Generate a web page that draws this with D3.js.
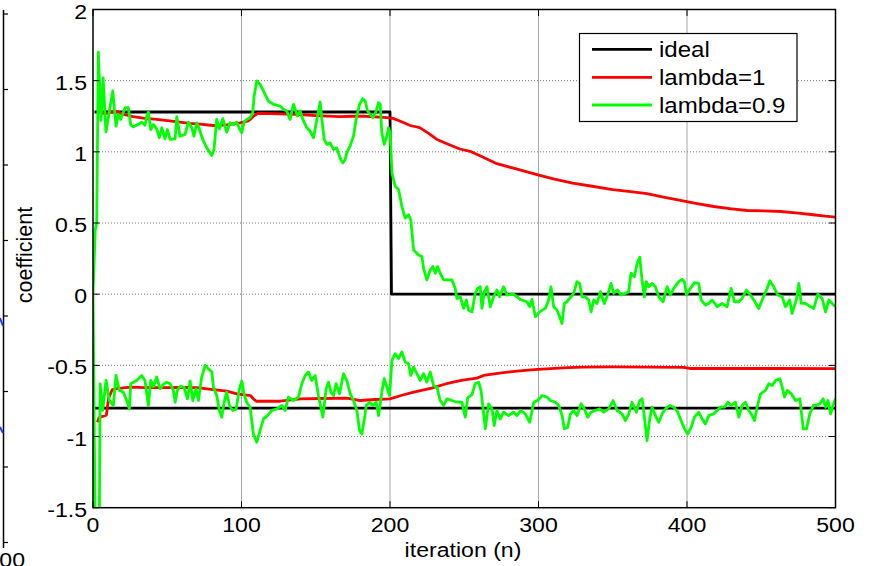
<!DOCTYPE html>
<html>
<head>
<meta charset="utf-8">
<script src="https://cdn.jsdelivr.net/npm/d3@7"></script>
<style>
  html, body { margin: 0; padding: 0; background: #fff; }
  svg { display: block; }
  text { font-family: "Liberation Sans", Arial, sans-serif; fill: #000; }
</style>
</head>
<body>
<svg id="chart" width="876" height="566"></svg>
<script>
// ---- data -------------------------------------------------------------
const xTicks = [0, 100, 200, 300, 400, 500];
const yTicks = [-1.5, -1, -0.5, 0, 0.5, 1, 1.5, 2];
const seriesNames = ["ideal", "lambda=1", "lambda=0.9"];
const seriesColors = ["#000000", "#ff0000", "#00ff00"];

// ideal coefficients [n, value]
const idealUpper = [[1, 1.28], [200, 1.28], [201, 0], [500, 0]];
const idealLower = [[1, -0.8], [500, -0.8]];

// RLS estimate, lambda = 1
const redUpper = [[3,1.3],[6,1.27],[9,1.27],[12,1.28],[16,1.285],[20,1.265],[27,1.247],[35,1.235],[43,1.228],[50,1.22],[58.6,1.209],[65,1.2],[72,1.195],[81,1.185],[90,1.19],[99,1.204],[104,1.215],[106,1.228],[108,1.25],[111,1.27],[120,1.268],[137,1.263],[150,1.255],[166,1.247],[175,1.25],[182,1.251],[190,1.245],[198,1.24],[202,1.235],[207,1.215],[213.6,1.185],[220,1.17],[226,1.13],[231.6,1.087],[240,1.05],[247,1.02],[254,1.004],[262,0.965],[272,0.917],[285,0.88],[299,0.84],[310,0.81],[323,0.78],[335,0.76],[350,0.734],[362,0.72],[373,0.706],[385,0.68],[395.6,0.659],[405,0.64],[418,0.616],[430,0.6],[440.5,0.588],[452,0.585],[463,0.581],[475,0.57],[485,0.558],[493,0.548],[500,0.541]];
const redLower = [[3,-0.9],[4,-0.87],[6,-0.86],[9,-0.85],[10.5,-0.73],[13,-0.67],[16,-0.664],[25,-0.653],[35,-0.656],[47,-0.657],[60,-0.655],[70,-0.657],[81,-0.671],[90,-0.681],[97,-0.7],[106,-0.712],[108,-0.735],[110,-0.752],[126,-0.752],[139.5,-0.735],[155,-0.733],[171,-0.73],[180,-0.747],[190,-0.74],[200,-0.735],[208,-0.71],[216,-0.688],[228,-0.66],[238,-0.629],[248,-0.605],[258.5,-0.59],[263,-0.571],[275,-0.553],[285.5,-0.54],[297,-0.53],[308,-0.523],[320,-0.516],[330,-0.512],[350,-0.511],[375,-0.512],[397.6,-0.514],[402,-0.522],[430,-0.522],[460,-0.522],[500,-0.523]];

// RLS estimate, lambda = 0.9
const greenUpper = [[0,0],[1.5,0.45],[2.5,0.5],[3.6,1.7],[5.4,1.22],[6.8,1.52],[8.7,1.14],[13.3,1.428],[15.5,1.18],[17,1.263],[18.6,1.228],[21.6,1.31],[23.8,1.31],[25.4,1.19],[27.2,1.176],[30.5,1.193],[32.8,1.209],[35,1.186],[36.2,1.251],[37.3,1.279],[38.9,1.157],[40.7,1.192],[42.9,1.162],[44.7,1.099],[46.3,1.169],[48.5,1.092],[50.1,1.157],[51.9,1.087],[55.3,1.092],[56.4,1.247],[58.6,1.11],[62,1.122],[64.2,1.209],[66.5,1.169],[68,1.11],[69.9,1.204],[71.7,1.157],[73.9,1.087],[76.6,1.028],[80,0.974],[81.5,1.016],[83.3,1.228],[85.1,1.162],[87.4,1.233],[90,1.138],[92.3,1.204],[94.6,1.192],[96.8,1.209],[98.6,1.162],[100.2,1.134],[101.7,1.209],[103.5,1.228],[105.8,1.24],[107.6,1.275],[108.5,1.392],[110.3,1.498],[112.5,1.475],[115.9,1.404],[118.1,1.357],[121.5,1.334],[126,1.322],[128.3,1.298],[130.5,1.287],[132.7,1.228],[135,1.334],[137.7,1.251],[139.5,1.287],[141.3,1.228],[144,1.169],[146.2,1.146],[148.5,1.099],[151.2,1.251],[153,1.35],[154.1,1.228],[155.7,1.087],[157.5,1.052],[159.7,1.063],[162,1.016],[164.2,1.028],[166.4,0.957],[168.2,0.922],[169.8,0.946],[170.9,0.993],[173.2,1.044],[175.4,1.11],[177.2,1.228],[179.5,1.334],[181.7,1.374],[183.3,1.357],[184.9,1.287],[186.7,1.263],[188.5,1.24],[190.3,1.275],[192.3,1.345],[193.4,1.334],[194.5,1.134],[196.1,1.052],[197.9,1.11],[199,1.169],[200.1,1.134],[201.3,0.852],[203.5,0.758],[205.8,0.734],[208,0.617],[210.2,0.534],[212.5,0.558],[214,0.523],[215.9,0.311],[219.2,0.276],[221.5,0.264],[222.6,0.182],[224.8,0.1],[227.1,0.17],[228.9,0.194],[230.5,0.147],[232,0.194],[233.8,0.147],[236.1,0.1],[239.4,0.1],[241.7,0.1],[243.9,0.041],[245.1,-0.03],[247.3,-0.018],[249.6,-0.1],[251.4,-0.041],[252.9,-0.112],[255.2,-0.124],[257.4,0.005],[259,0.041],[260.8,0.052],[261.9,-0.1],[263.5,0.017],[265.3,0.052],[267.5,-0.088],[269.8,-0.018],[272,0.029],[273.8,-0.018],[276.5,0.052],[278.8,-0.006],[283.2,0.001],[287.7,-0.037],[292.2,-0.053],[294,-0.088],[295.6,-0.037],[297.9,-0.159],[300.8,-0.124],[304.6,-0.1],[306.8,-0.041],[308.4,0.052],[310.2,-0.088],[312.5,-0.112],[314.2,-0.159],[315.8,-0.206],[317.4,-0.065],[319.2,-0.053],[321.9,-0.018],[323.7,0.005],[325.9,0.088],[327.7,0.076],[329.3,-0.018],[331.5,-0.018],[333.8,-0.041],[335.4,-0.124],[337.2,-0.041],[339.4,-0.065],[341.7,0.017],[344.3,-0.065],[346.6,-0.006],[348.8,0.076],[350.6,0.005],[353.3,0.029],[355.6,-0.006],[358.5,0.005],[360.7,0.017],[362.3,0.147],[364.6,0.123],[366.4,0.217],[368.2,0.26],[369.7,0.1],[371.3,-0.018],[372.6,0.088],[374.2,0.052],[376.5,0.076],[378.7,0.052],[381,-0.018],[383.9,-0.053],[386.6,0.052],[388.8,-0.006],[391.1,0.041],[394.4,0.088],[396.7,0.104],[398.3,0.088],[399.6,-0.006],[402.3,0.041],[405,0.081],[407.9,0.076],[409.5,-0.041],[412.4,-0.076],[414.6,-0.065],[416.9,-0.041],[420.3,-0.088],[423.6,-0.065],[427,-0.088],[429.7,0.041],[432,-0.053],[434.9,-0.053],[437.1,-0.03],[440,0.029],[442.7,-0.006],[445,-0.041],[448.3,-0.1],[450.6,-0.041],[454,0.041],[455.8,0.094],[458.4,0.052],[461.1,-0.006],[464.1,-0.018],[466.3,-0.088],[469.2,-0.041],[470.8,-0.135],[473.7,-0.037],[475.3,0.076],[476.9,-0.065],[479.8,-0.065],[483.2,-0.088],[485.4,-0.1],[488.1,0.001],[491,-0.03],[493.3,-0.124],[495.5,-0.041],[497.8,-0.065],[500,-0.088]];
const greenLower = [[0,0],[2,-2.2],[3,-3],[4,-2.2],[4.8,-0.63],[6.5,-0.817],[8.8,-0.606],[11,-0.747],[13.7,-0.782],[15.5,-0.571],[17.7,-0.676],[20.4,-0.688],[22.7,-0.747],[24.5,-0.806],[25.4,-0.629],[29.4,-0.606],[32.8,-0.571],[35,-0.606],[37.3,-0.782],[38.9,-0.606],[40.7,-0.648],[42.9,-0.582],[45.2,-0.665],[47.4,-0.634],[49.6,-0.618],[51.9,-0.629],[54.1,-0.676],[55.3,-0.759],[56.8,-0.676],[58.6,-0.648],[61.3,-0.653],[63.6,-0.735],[65.4,-0.61],[67.2,-0.747],[69.4,-0.665],[71,-0.747],[73.2,-0.582],[75.5,-0.5],[77.7,-0.524],[80,-0.547],[81.1,-0.653],[83.3,-0.712],[85.1,-0.817],[86.7,-0.864],[88.3,-0.759],[90,-0.688],[91.9,-0.782],[94.1,-0.817],[96.4,-0.806],[98.6,-0.665],[100.2,-0.61],[101.7,-0.7],[103.5,-0.759],[105.8,-0.794],[108,-0.982],[110.3,-1.04],[112.5,-0.958],[114.8,-0.876],[117.5,-0.853],[120.4,-0.817],[123.8,-0.806],[127.1,-0.782],[129.4,-0.817],[131.6,-0.723],[135,-0.747],[138.4,-0.723],[140.6,-0.629],[142.9,-0.571],[145.1,-0.547],[147.3,-0.606],[149.6,-0.571],[151.8,-0.712],[154.8,-0.864],[157,-0.665],[158.6,-0.618],[160.2,-0.688],[162,-0.712],[163.7,-0.629],[166,-0.7],[168.7,-0.559],[170.9,-0.606],[173.2,-0.7],[175.4,-0.747],[177.7,-0.817],[179.5,-0.958],[181,-0.982],[182.6,-0.888],[184,-0.782],[186.2,-0.759],[188.5,-0.782],[190.7,-0.759],[192.3,-0.853],[194.5,-0.688],[196.1,-0.594],[197.9,-0.653],[199.7,-0.712],[201.3,-0.465],[203.5,-0.418],[205.8,-0.453],[208,-0.406],[210.2,-0.477],[212.5,-0.488],[214,-0.571],[215.9,-0.512],[218.1,-0.559],[220.3,-0.606],[222.6,-0.559],[224.8,-0.618],[227.1,-0.547],[229.3,-0.641],[231.6,-0.653],[233.8,-0.747],[236.1,-0.782],[238.3,-0.735],[241.7,-0.747],[245,-0.759],[248.4,-0.759],[250.7,-0.864],[252.3,-0.728],[255.2,-0.705],[257.4,-0.629],[259.7,-0.618],[261.3,-0.676],[264.2,-0.946],[266.4,-0.77],[268.7,-0.806],[270.2,-0.923],[272,-0.817],[274.3,-0.876],[276.5,-0.829],[279.9,-0.853],[283.3,-0.829],[285.5,-0.853],[288.2,-0.817],[291.1,-0.841],[294.1,-0.9],[296.8,-0.759],[299.5,-0.747],[302.4,-0.712],[305.7,-0.723],[308,-0.747],[311.4,-0.759],[313.6,-0.782],[315.9,-0.853],[317.4,-0.946],[319.7,-0.935],[321.5,-0.841],[323.7,-0.817],[326,-0.853],[328.7,-0.77],[330.9,-0.806],[333.1,-0.864],[335.4,-0.829],[338.3,-0.817],[341.2,-0.806],[343.9,-0.829],[347.3,-0.806],[350.2,-0.747],[352.9,-0.817],[356.3,-0.841],[358.5,-0.888],[360.8,-0.841],[363,-0.759],[365.9,-0.829],[368.2,-0.747],[369.8,-0.735],[371.3,-0.864],[373.1,-1.029],[374.9,-0.876],[376.5,-0.794],[378.7,-0.853],[381,-0.9],[383.2,-0.841],[385.5,-0.806],[388.4,-0.782],[391.1,-0.794],[393.8,-0.829],[396,-0.888],[398.3,-0.946],[400.5,-0.982],[402.8,-0.935],[405,-0.864],[407.9,-0.829],[410.2,-0.876],[412.4,-0.911],[414.7,-0.853],[418,-0.841],[420.3,-0.817],[422.5,-0.794],[425.2,-0.794],[427.5,-0.759],[429.7,-0.782],[432.6,-0.759],[434.9,-0.864],[437.1,-0.782],[439.4,-0.759],[441.6,-0.817],[443.9,-0.853],[445.5,-0.888],[447.2,-0.794],[449.5,-0.7],[452.9,-0.676],[455.1,-0.629],[457.4,-0.641],[459.6,-0.606],[462.5,-0.594],[464.1,-0.653],[465.7,-0.723],[467.5,-0.676],[470.2,-0.7],[473.1,-0.747],[476,-0.735],[478.3,-0.946],[480.5,-0.946],[482.7,-0.841],[485,-0.782],[487.2,-0.782],[489.5,-0.77],[491.7,-0.735],[493.3,-0.794],[494.9,-0.747],[496.7,-0.841],[499,-0.759],[500,-0.735]];

// ---- layout -----------------------------------------------------------
const svg = d3.select("#chart");
const plot = { left: 93, right: 835.5, top: 9.5, bottom: 507.7 };
const FONT = 21, STRETCH = 1.1;

const x = d3.scaleLinear().domain([0, 500]).range([plot.left, plot.right]);
const y = d3.scaleLinear().domain([-1.5, 2]).range([plot.bottom, plot.top]);

// neighbouring panel edge on the far left
const edge = svg.append("g");
edge.append("line").attr("x1", 3.5).attr("x2", 3.5).attr("y1", 10).attr("y2", 548)
  .attr("stroke", "#000").attr("stroke-width", 1.5);
d3.range(8).forEach(i => {
  const ty = 14 + i * 75.5;
  edge.append("line").attr("x1", 3.5).attr("x2", 8).attr("y1", ty).attr("y2", ty)
    .attr("stroke", "#000").attr("stroke-width", 1.2);
});
edge.append("line").attr("x1", 0).attr("x2", 3).attr("y1", 318).attr("y2", 326)
  .attr("stroke", "#1a3cff").attr("stroke-width", 2);
edge.append("line").attr("x1", 0).attr("x2", 3).attr("y1", 427).attr("y2", 433)
  .attr("stroke", "#1a3cff").attr("stroke-width", 2);
edge.append("text").attr("text-anchor", "end")
  .attr("transform", `translate(25,567) scale(${STRETCH},1)`)
  .style("font-size", FONT + "px").text("100");

// grid
const grid = svg.append("g");
grid.selectAll("line.vg").data(xTicks.filter(t => t > 0 && t < 500)).join("line")
  .attr("class", "vg")
  .attr("x1", d => x(d)).attr("x2", d => x(d))
  .attr("y1", plot.top).attr("y2", plot.bottom)
  .attr("stroke", "#a8a8a8").attr("stroke-width", 1);
grid.selectAll("line.hg").data(yTicks.filter(t => t > -1.5 && t < 2)).join("line")
  .attr("class", "hg")
  .attr("x1", plot.left).attr("x2", plot.right)
  .attr("y1", d => y(d)).attr("y2", d => y(d))
  .attr("stroke", "#777").attr("stroke-width", 1).attr("stroke-dasharray", "1,2");

// series
svg.append("defs").append("clipPath").attr("id", "plotclip")
  .append("rect").attr("x", plot.left).attr("y", plot.top)
  .attr("width", plot.right - plot.left).attr("height", plot.bottom - plot.top);

const line = d3.line().x(d => x(d[0])).y(d => y(d[1]));
const lines = svg.append("g").attr("clip-path", "url(#plotclip)");
const seriesData = [
  [idealUpper, idealLower],
  [redUpper, redLower],
  [greenUpper, greenLower]
];
seriesData.forEach((pair, i) => {
  pair.forEach(data => {
    lines.append("path").datum(data).attr("d", line)
      .attr("fill", "none").attr("stroke", seriesColors[i])
      .attr("stroke-width", 2.8).attr("stroke-linejoin", "round");
  });
});

// axes box and inward ticks
const axes = svg.append("g");
axes.append("rect").attr("x", plot.left).attr("y", plot.top)
  .attr("width", plot.right - plot.left).attr("height", plot.bottom - plot.top)
  .attr("fill", "none").attr("stroke", "#000").attr("stroke-width", 1.5);
const TL = 6.5;
xTicks.forEach(t => {
  axes.append("line").attr("x1", x(t)).attr("x2", x(t))
    .attr("y1", plot.bottom).attr("y2", plot.bottom - TL).attr("stroke", "#000");
  axes.append("line").attr("x1", x(t)).attr("x2", x(t))
    .attr("y1", plot.top).attr("y2", plot.top + TL).attr("stroke", "#000");
});
yTicks.forEach(t => {
  axes.append("line").attr("x1", plot.left).attr("x2", plot.left + TL)
    .attr("y1", y(t)).attr("y2", y(t)).attr("stroke", "#000");
  axes.append("line").attr("x1", plot.right).attr("x2", plot.right - TL)
    .attr("y1", y(t)).attr("y2", y(t)).attr("stroke", "#000");
});

// tick labels
svg.append("g").selectAll("text").data(xTicks).join("text")
  .attr("text-anchor", "middle")
  .attr("transform", d => `translate(${x(d)},532) scale(${STRETCH},1)`)
  .style("font-size", FONT + "px").text(d => d3.format("d")(d));
svg.append("g").selectAll("text").data(yTicks).join("text")
  .attr("text-anchor", "end")
  .attr("transform", d => `translate(87,${y(d) + 9}) scale(${STRETCH},1)`)
  .style("font-size", FONT + "px").text(d => String(d));

// axis titles
svg.append("text").attr("text-anchor", "middle")
  .attr("transform", `translate(463,557) scale(${STRETCH},1)`)
  .style("font-size", FONT + "px").text("iteration (n)");
svg.append("text").attr("text-anchor", "middle")
  .attr("transform", "translate(32,255) rotate(-90)")
  .style("font-size", "21.5px").text("coefficient");

// legend
const lg = svg.append("g");
lg.append("rect").attr("x", 579.5).attr("y", 33.5).attr("width", 217.5).attr("height", 88)
  .attr("fill", "#fff").attr("stroke", "#000").attr("stroke-width", 1.2);
const legendRows = [49.3, 77.3, 105];
seriesNames.forEach((name, i) => {
  lg.append("line").attr("x1", 592).attr("x2", 652)
    .attr("y1", legendRows[i]).attr("y2", legendRows[i])
    .attr("stroke", seriesColors[i]).attr("stroke-width", 2.8);
  lg.append("text")
    .attr("transform", `translate(659,${legendRows[i] + 8}) scale(1.12,1)`)
    .style("font-size", "21.5px").text(name);
});
</script>
</body>
</html>
